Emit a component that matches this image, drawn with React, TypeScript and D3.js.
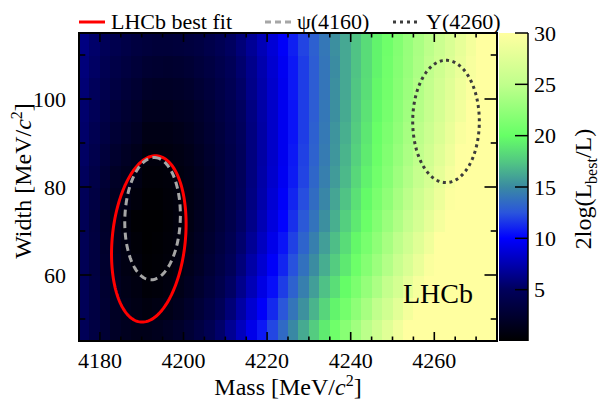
import React from 'react';
import * as d3 from 'd3';

// ---------- data ----------
const massEdges = [4175, 4177.5, 4180, 4182.5, 4185, 4187.5, 4190, 4192.5, 4195, 4197.5, 4200, 4202.5, 4205, 4207.5, 4210, 4212.5, 4215, 4217.5, 4220, 4222.5, 4225, 4227.5, 4230, 4232.5, 4235, 4237.5, 4240, 4242.5, 4245, 4247.5, 4250, 4252.5, 4255, 4257.5, 4260, 4262.5, 4265, 4267.5, 4270, 4272.5, 4275];
const widthEdges = [45, 50, 55, 60, 65, 70, 75, 80, 85, 90, 95, 100, 105, 110, 115];

// 2log(Lbest/L), rows = width bins (bottom to top), columns = mass bins
const z: number[][] = [
  [4.7, 3.6, 2.7, 2.0, 1.6, 1.3, 1.3, 1.5, 1.8, 2.2, 2.8, 3.5, 4.4, 5.4, 6.6, 7.9, 9.3, 10.7, 12.1, 13.5, 14.9, 16.3, 17.7, 19.1, 20.5, 21.9, 23.3, 24.7, 26.1, 27.5, 28.9, 30.3, 31.7, 33.1, 34.5, 35.9, 37.3, 38.7, 40.1, 41.5],
  [4.7, 3.5, 2.6, 1.9, 1.4, 1.1, 0.8, 1.0, 1.2, 1.6, 2.2, 2.9, 3.7, 4.7, 5.8, 7.1, 8.5, 9.8, 11.2, 12.6, 14.0, 15.3, 16.7, 18.1, 19.5, 20.8, 22.2, 23.6, 25.0, 26.3, 27.7, 29.1, 30.5, 31.8, 33.2, 34.6, 36.0, 37.3, 38.7, 40.1],
  [4.7, 3.5, 2.5, 1.7, 1.2, 0.9, 0.4, 0.5, 0.8, 1.2, 1.7, 2.4, 3.2, 4.1, 5.2, 6.4, 7.7, 9.1, 10.4, 11.8, 13.1, 14.5, 15.8, 17.2, 18.5, 19.9, 21.2, 22.6, 23.9, 25.3, 26.6, 28.0, 29.3, 30.7, 32.0, 33.4, 34.7, 36.1, 37.4, 38.8],
  [4.6, 3.4, 2.4, 1.6, 1.0, 0.6, 0.2, 0.3, 0.5, 0.9, 1.4, 2.0, 2.8, 3.7, 4.7, 5.9, 7.2, 8.5, 9.8, 11.1, 12.4, 13.8, 15.1, 16.4, 17.7, 19.0, 20.4, 21.7, 23.0, 24.3, 25.7, 27.0, 28.3, 29.6, 31.0, 32.3, 33.6, 34.9, 36.3, 37.6],
  [4.6, 3.4, 2.3, 1.4, 0.9, 0.4, 0.1, 0.2, 0.4, 0.7, 1.2, 1.8, 2.5, 3.4, 4.4, 5.5, 6.7, 8.0, 9.3, 10.6, 11.9, 13.2, 14.5, 15.8, 17.1, 18.4, 19.7, 21.0, 22.3, 23.6, 24.9, 26.2, 27.5, 28.8, 30.1, 31.4, 32.7, 34.0, 35.3, 36.6],
  [4.6, 3.3, 2.2, 1.3, 0.7, 0.2, 0.1, 0.1, 0.3, 0.6, 1.0, 1.6, 2.3, 3.1, 4.1, 5.2, 6.3, 7.6, 8.9, 10.1, 11.4, 12.7, 13.9, 15.2, 16.5, 17.8, 19.0, 20.3, 21.6, 22.9, 24.1, 25.4, 26.7, 28.0, 29.2, 30.5, 31.8, 33.1, 34.3, 35.6],
  [4.8, 3.6, 2.5, 1.7, 1.1, 0.6, 0.2, 0.2, 0.4, 0.6, 1.0, 1.5, 2.2, 3.0, 3.9, 5.0, 6.1, 7.3, 8.6, 9.8, 11.1, 12.3, 13.6, 14.8, 16.1, 17.3, 18.6, 19.8, 21.1, 22.3, 23.6, 24.8, 26.1, 27.3, 28.6, 29.8, 31.1, 32.3, 33.6, 34.8],
  [5.0, 3.8, 2.8, 2.0, 1.5, 1.0, 0.4, 0.4, 0.5, 0.8, 1.1, 1.6, 2.2, 3.0, 3.9, 4.9, 6.0, 7.2, 8.4, 9.6, 10.8, 12.0, 13.3, 14.5, 15.7, 16.9, 18.2, 19.4, 20.6, 21.8, 23.1, 24.3, 25.5, 26.7, 28.0, 29.2, 30.4, 31.6, 32.9, 34.1],
  [5.2, 4.1, 3.1, 2.4, 1.9, 1.4, 0.7, 0.7, 0.8, 1.0, 1.3, 1.8, 2.4, 3.1, 3.9, 4.9, 6.0, 7.1, 8.3, 9.5, 10.7, 11.9, 13.1, 14.3, 15.5, 16.7, 17.9, 19.1, 20.3, 21.5, 22.7, 23.9, 25.1, 26.3, 27.5, 28.7, 29.9, 31.1, 32.3, 33.5],
  [5.4, 4.4, 3.5, 2.8, 2.3, 1.8, 1.1, 1.1, 1.1, 1.3, 1.6, 2.1, 2.6, 3.3, 4.1, 5.0, 6.0, 7.1, 8.3, 9.5, 10.6, 11.8, 13.0, 14.2, 15.4, 16.5, 17.7, 18.9, 20.1, 21.2, 22.4, 23.6, 24.8, 25.9, 27.1, 28.3, 29.5, 30.6, 31.8, 33.0],
  [5.5, 4.7, 3.8, 3.1, 2.6, 2.2, 1.5, 1.5, 1.5, 1.7, 1.9, 2.3, 2.8, 3.5, 4.2, 5.1, 6.1, 7.2, 8.3, 9.5, 10.6, 11.8, 12.9, 14.1, 15.2, 16.3, 17.5, 18.7, 19.8, 20.9, 22.1, 23.3, 24.4, 25.5, 26.7, 27.9, 29.0, 30.1, 31.3, 32.5],
  [5.7, 4.9, 4.1, 3.5, 3.0, 2.6, 2.1, 2.0, 2.0, 2.1, 2.3, 2.7, 3.2, 3.8, 4.5, 5.3, 6.3, 7.3, 8.4, 9.5, 10.7, 11.8, 12.9, 14.0, 15.2, 16.2, 17.4, 18.5, 19.7, 20.7, 21.9, 23.0, 24.2, 25.2, 26.4, 27.5, 28.7, 29.7, 30.9, 32.0],
  [5.9, 5.2, 4.4, 3.8, 3.4, 3.0, 2.6, 2.5, 2.4, 2.5, 2.7, 3.1, 3.5, 4.1, 4.7, 5.5, 6.4, 7.4, 8.5, 9.6, 10.7, 11.8, 12.9, 14.0, 15.1, 16.2, 17.3, 18.4, 19.5, 20.6, 21.7, 22.8, 23.9, 25.0, 26.1, 27.2, 28.3, 29.4, 30.5, 31.6],
  [6.1, 5.4, 4.7, 4.2, 3.8, 3.4, 3.2, 3.0, 3.0, 3.1, 3.3, 3.5, 4.0, 4.5, 5.1, 5.8, 6.7, 7.7, 8.7, 9.8, 10.9, 12.0, 13.0, 14.1, 15.2, 16.2, 17.3, 18.4, 19.5, 20.5, 21.6, 22.7, 23.8, 24.8, 25.9, 27.0, 28.1, 29.1, 30.2, 31.3],
];

// contours: centre mass, centre width, sigma mass, sigma width, correlation
const ellipseKeys = ['lhcb', 'psi', 'y'];
const ellipseMass = [4191.7, 4192.6, 4262.8];
const ellipseWidth = [68.2, 72.8, 94.9];
const ellipseSigmaMass = [8.92, 6.65, 7.97];
const ellipseSigmaWidth = [18.9, 13.9, 13.9];
const ellipseRho = [0.18, 0.06, 0];

const massTicks = [4180, 4200, 4220, 4240, 4260];
const widthTicks = [60, 80, 100];
const widthMinorTicks = [50, 70, 90, 110];
const colorTicks = [5, 10, 15, 20, 25, 30];

const paletteStops = [0, 2.5, 5, 7.5, 10, 12.5, 15, 17.5, 20, 25, 30];
const paletteColors = ['#000000', '#000030', '#00005c', '#0000b0', '#0000ff', '#2a55dc', '#3a8aa2', '#52c882', '#66ff66', '#c0ff8c', '#ffffa0'];

// ---------- layout ----------
const W = 605;
const H = 402;
const L = 79, R = 497, T = 33, B = 341;
const CB_L = 499, CB_R = 528;
const FONT = 'Liberation Serif';

export default function App() {
  const x = d3.scaleLinear().domain([4175, 4275]).range([L, R]);
  const y = d3.scaleLinear().domain([45, 115]).range([B, T]);
  const cy = d3.scaleLinear().domain([0, 30]).range([B, T]);
  const color = d3.scaleLinear<string>().domain(paletteStops).range(paletteColors).interpolate(d3.interpolateRgb).clamp(true);

  const cells: React.ReactNode[] = [];
  z.forEach((row, j) => {
    row.forEach((v, i) => {
      const x0 = x(massEdges[i]);
      const x1 = x(massEdges[i + 1]);
      const y0 = y(widthEdges[j + 1]);
      const y1 = y(widthEdges[j]);
      cells.push(<rect key={`${i}-${j}`} x={x0} y={y0} width={x1 - x0 + 0.6} height={y1 - y0 + 0.6} fill={color(v)} />);
    });
  });

  const line = d3.line<[number, number]>().x(d => x(d[0])).y(d => y(d[1])).curve(d3.curveLinearClosed);
  const ellipsePath = (k: number) => {
    const pts: [number, number][] = d3.range(0, 360, 2).map(deg => {
      const t = (deg * Math.PI) / 180;
      const rho = ellipseRho[k];
      return [
        ellipseMass[k] + ellipseSigmaMass[k] * (rho * Math.cos(t) + Math.sqrt(1 - rho * rho) * Math.sin(t)),
        ellipseWidth[k] + ellipseSigmaWidth[k] * Math.cos(t),
      ];
    });
    return line(pts) || '';
  };
  const ellipseStyle: Record<string, any> = {
    lhcb: { stroke: '#ff0000', strokeWidth: 3 },
    psi: { stroke: '#a6a6a6', strokeWidth: 3, strokeDasharray: '7 4.5' },
    y: { stroke: '#3c3c3c', strokeWidth: 3, strokeDasharray: '3 3.6' },
  };

  const massMinor = d3.range(4180, 4275, 5);
  const xMajLen = 9, xMinLen = 4.5, yMajLen = 12.5, yMinLen = 6.3;

  const gradId = 'cbgrad';
  const textStyle = { fontFamily: FONT } as React.CSSProperties;

  return (
    <svg width={W} height={H} style={{ position: 'absolute', left: 0, top: 0, background: '#fff', fontFamily: FONT }}>
      <defs>
        <clipPath id="plotclip">
          <rect x={L} y={T} width={R - L} height={B - T} />
        </clipPath>
        <linearGradient id={gradId} x1="0" y1="1" x2="0" y2="0">
          {paletteStops.map((s, i) => (
            <stop key={i} offset={s / 30} stopColor={paletteColors[i]} />
          ))}
        </linearGradient>
      </defs>
      <rect x={0} y={0} width={W} height={H} fill="#fff" />

      {/* heatmap */}
      <g clipPath="url(#plotclip)" shapeRendering="crispEdges">{cells}</g>

      {/* contours */}
      <g clipPath="url(#plotclip)" fill="none">
        {ellipseKeys.map((k, i) => (
          <path key={k} d={ellipsePath(i)} {...ellipseStyle[k]} />
        ))}
      </g>

      {/* ticks */}
      <g stroke="#000" strokeWidth={1.6}>
        {massMinor.map(m => {
          const len = massTicks.includes(m) ? xMajLen : xMinLen;
          return (
            <g key={m}>
              <line x1={x(m)} x2={x(m)} y1={B} y2={B - len} />
              <line x1={x(m)} x2={x(m)} y1={T} y2={T + len} />
            </g>
          );
        })}
        {widthTicks.concat(widthMinorTicks).map(w => {
          const len = widthTicks.includes(w) ? yMajLen : yMinLen;
          return (
            <g key={w}>
              <line x1={L} x2={L + len} y1={y(w)} y2={y(w)} />
              <line x1={R} x2={R - len} y1={y(w)} y2={y(w)} />
            </g>
          );
        })}
      </g>

      {/* frame */}
      <rect x={L} y={T} width={R - L} height={B - T} fill="none" stroke="#000" strokeWidth={2} />

      {/* tick labels */}
      <g fontSize={22} fill="#000" style={textStyle}>
        {massTicks.map(m => (
          <text key={m} x={x(m)} y={368} textAnchor="middle" style={textStyle}>{m}</text>
        ))}
        {widthTicks.map(w => (
          <text key={w} x={66} y={y(w) + 7.5} textAnchor="end" style={textStyle}>{w}</text>
        ))}
      </g>

      {/* axis titles */}
      <text x={(L + R) / 2} y={395} textAnchor="middle" fontSize={24} style={textStyle}>
        Mass [MeV/<tspan fontStyle="italic">c</tspan><tspan dy={-9} fontSize={16}>2</tspan><tspan dy={9}>]</tspan>
      </text>
      <text transform={`translate(31,${(T + B) / 2 - 6}) rotate(-90)`} textAnchor="middle" fontSize={24} style={textStyle}>
        Width [MeV/<tspan fontStyle="italic">c</tspan><tspan dy={-9} fontSize={16}>2</tspan><tspan dy={9}>]</tspan>
      </text>

      {/* LHCb label */}
      <text x={403} y={303} fontSize={28} style={textStyle}>LHCb</text>

      {/* colour bar */}
      <rect x={CB_L} y={T} width={CB_R - CB_L} height={B - T} fill={`url(#${gradId})`} />
      <line x1={CB_R} x2={CB_R} y1={T} y2={B} stroke="#000" strokeWidth={1.5} />
      <g stroke="#000" strokeWidth={1.5}>
        {colorTicks.map(c => (
          <line key={c} x1={CB_R} x2={CB_R - 13} y1={cy(c)} y2={cy(c)} />
        ))}
      </g>
      <g fontSize={22} style={textStyle}>
        {colorTicks.map(c => (
          <text key={c} x={534} y={cy(c) + 7.5} style={textStyle}>{c}</text>
        ))}
      </g>
      <text transform={`translate(591,189) rotate(-90)`} textAnchor="middle" fontSize={24} style={textStyle}>
        2log(L<tspan dy={6} fontSize={16}>best</tspan><tspan dy={-6}>/L)</tspan>
      </text>

      {/* legend */}
      <g fontSize={22} style={textStyle}>
        <line x1={79} x2={105} y1={22} y2={22} stroke="#ff0000" strokeWidth={3} />
        <text x={111} y={29} style={textStyle}>LHCb best fit</text>
        <line x1={265} x2={291} y1={22} y2={22} stroke="#a6a6a6" strokeWidth={3} strokeDasharray="6 4" />
        <text x={297} y={29} style={textStyle}>ψ(4160)</text>
        <line x1={393} x2={418} y1={22} y2={22} stroke="#3c3c3c" strokeWidth={3} strokeDasharray="3 4" />
        <text x={426} y={29} style={textStyle}>Y(4260)</text>
      </g>
    </svg>
  );
}
